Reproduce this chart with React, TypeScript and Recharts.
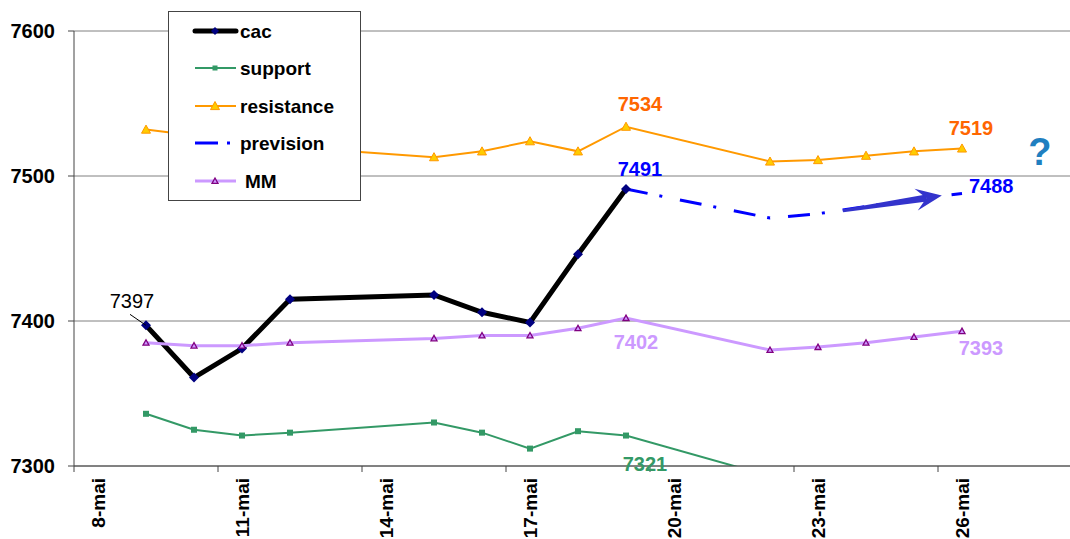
import React from "react";
import {
  LineChart,
  Line,
  XAxis,
  YAxis,
  CartesianGrid,
  Legend,
  LabelList,
  ReferenceLine,
  ReferenceDot,
} from "recharts";

// days of May (trading days only)
const days = [9, 10, 11, 12, 15, 16, 17, 18, 19, 22, 23, 24, 25, 26];
const cac = [7397, 7361, 7381, 7415, 7418, 7406, 7399, 7446, 7491, null, null, null, null, null];
const support = [7336, 7325, 7321, 7323, 7330, 7323, 7312, 7324, 7321, 7293, null, null, null, null];
const resistance = [7532, 7528, 7524, 7520, 7513, 7517, 7524, 7517, 7534, 7510, 7511, 7514, 7517, 7519];
const prevision = [null, null, null, null, null, null, null, null, 7491, 7471, 7474, 7479, 7484, 7488];
const mm = [7385, 7383, 7383, 7385, 7388, 7390, 7390, 7395, 7402, 7380, 7382, 7385, 7389, 7393];

const xTicks = [8, 11, 14, 17, 20, 23, 26];
const yTicks = [7300, 7400, 7500, 7600];

// hand-drawn arrow and question mark, in data coordinates
const arrowFrom = { day: 23.52, value: 7476 };
const arrowTo = { day: 25.58, value: 7486.5 };
const questionAt = { day: 27.62, value: 7517 };

const data = days.map((d, i) => ({
  day: d,
  cac: cac[i],
  support: support[i],
  resistance: resistance[i],
  prevision: prevision[i],
  mm: mm[i],
}));

const FONT = "Arial, 'Liberation Sans', sans-serif";
const HALF_DAY = 24; // px, half a day slot on the x axis

const C = {
  cac: "#000000",
  cacDot: "#000080",
  support: "#339966",
  resistance: "#FF9900",
  resDot: "#FFCC00",
  prevision: "#0000FF",
  mm: "#CC99FF",
  mmDot: "#800080",
};

function diamond(cx: number, cy: number, r: number, fill: string, key?: any) {
  return <polygon key={key} points={`${cx},${cy - r} ${cx + r},${cy} ${cx},${cy + r} ${cx - r},${cy}`} fill={fill} />;
}
function square(cx: number, cy: number, r: number, fill: string, key?: any) {
  return <rect key={key} x={cx - r} y={cy - r} width={r * 2} height={r * 2} fill={fill} />;
}
function triangle(cx: number, cy: number, r: number, fill: string, stroke: string, sw: number, key?: any) {
  return (
    <polygon
      key={key}
      points={`${cx},${cy - r} ${cx + r},${cy + r * 0.8} ${cx - r},${cy + r * 0.8}`}
      fill={fill}
      stroke={stroke}
      strokeWidth={sw}
    />
  );
}

const dotOk = (p: any) => p.cx != null && p.cy != null && p.value != null && !Number.isNaN(p.cy);

const CacDot = (p: any) => (dotOk(p) ? diamond(p.cx, p.cy, 5, C.cacDot, p.index) : <g key={p.index} />);
const SupDot = (p: any) => (dotOk(p) ? square(p.cx, p.cy, 3, C.support, p.index) : <g key={p.index} />);
const ResDot = (p: any) =>
  dotOk(p) ? triangle(p.cx, p.cy, 4.5, C.resDot, C.resistance, 1, p.index) : <g key={p.index} />;
const MmDot = (p: any) => (dotOk(p) ? triangle(p.cx, p.cy, 3, C.mm, C.mmDot, 1.3, p.index) : <g key={p.index} />);

// value labels on chosen points: index -> [dx, dy, anchor]
const pointLabel =
  (spots: Record<number, [number, number, string?]>, color: string, weight = "bold", leader = false) =>
  (p: any) => {
    const s = spots[p.index];
    if (!s || p.x == null || p.y == null) return null;
    return (
      <g key={`l${p.index}`}>
        {leader && <line x1={p.x - 16} y1={p.y - 11} x2={p.x} y2={p.y} stroke="#000" strokeWidth={1} />}
        <text
          x={p.x + s[0]}
          y={p.y + s[1]}
          textAnchor={(s[2] as any) || "middle"}
          fill={color}
          fontSize={20}
          fontWeight={weight}
          fontFamily={FONT}
        >
          {p.value}
        </text>
      </g>
    );
  };

const DayTick = (p: any) => {
  const { x, y, payload } = p;
  const ty = y + 12;
  return (
    <g>
      <line x1={x - HALF_DAY} y1={y} x2={x - HALF_DAY} y2={y + 6} stroke="#444" />
      <text
        x={x}
        y={ty}
        transform={`rotate(-90 ${x} ${ty})`}
        textAnchor="end"
        dy="0.36em"
        fontSize={19}
        fontWeight="bold"
        fill="#000"
        fontFamily={FONT}
      >
        {`${payload.value}-mai`}
      </text>
    </g>
  );
};

const ArrowShape = (p: any) => {
  const { x1, y1, x2, y2 } = p;
  if ([x1, y1, x2, y2].some((v) => v == null)) return <g />;
  const ang = Math.atan2(y2 - y1, x2 - x1);
  const ux = Math.cos(ang);
  const uy = Math.sin(ang);
  const nx = -uy;
  const ny = ux;
  const L = 26;
  const W = 11;
  const bx = x2 - ux * L;
  const by = y2 - uy * L;
  const mx = x2 - ux * L * 0.6;
  const my = y2 - uy * L * 0.6;
  const col = "#3333CC";
  return (
    <g>
      <polygon
        points={`${x1 + nx * 1.5},${y1 + ny * 1.5} ${mx + nx * 3.5},${my + ny * 3.5} ${mx - nx * 3.5},${my - ny * 3.5} ${x1 - nx * 1.5},${y1 - ny * 1.5}`}
        fill={col}
      />
      <polygon
        points={`${x2},${y2} ${bx + nx * W},${by + ny * W} ${mx},${my} ${bx - nx * W},${by - ny * W}`}
        fill={col}
      />
    </g>
  );
};

const QuestionShape = (p: any) => (
  <text
    x={p.cx}
    y={p.cy}
    dy="0.36em"
    textAnchor="middle"
    fontSize={38}
    fontWeight="bold"
    fill="#1F7FC0"
    fontFamily={FONT}
  >
    ?
  </text>
);

const legendRows = [
  { name: "cac", kind: "cac" },
  { name: "support", kind: "support" },
  { name: "resistance", kind: "resistance" },
  { name: "prevision", kind: "prevision" },
  { name: "MM", kind: "mm" },
];

const LegendBox = () => {
  const rowY = [20, 57, 95, 132, 170];
  return (
    <svg width={193} height={190} style={{ display: "block", fontFamily: FONT }}>
      <rect x={0.5} y={0.5} width={192} height={189} fill="#fff" stroke="#444" />
      {legendRows.map((r, i) => {
        const y = rowY[i];
        let sample: React.ReactNode = null;
        if (r.kind === "cac")
          sample = (
            <g>
              <line x1={27} x2={68} y1={y} y2={y} stroke={C.cac} strokeWidth={5} strokeLinecap="round" />
              {diamond(47, y, 4, C.cacDot)}
            </g>
          );
        if (r.kind === "support")
          sample = (
            <g>
              <line x1={27} x2={68} y1={y} y2={y} stroke={C.support} strokeWidth={2} />
              {square(47, y, 2.5, C.support)}
            </g>
          );
        if (r.kind === "resistance")
          sample = (
            <g>
              <line x1={27} x2={68} y1={y} y2={y} stroke={C.resistance} strokeWidth={2} />
              {triangle(47, y, 4.5, C.resDot, C.resistance, 1)}
            </g>
          );
        if (r.kind === "prevision")
          sample = (
            <g>
              <line x1={27} x2={50} y1={y} y2={y} stroke={C.prevision} strokeWidth={3} />
              <line x1={59} x2={62} y1={y} y2={y} stroke={C.prevision} strokeWidth={3} />
            </g>
          );
        if (r.kind === "mm")
          sample = (
            <g>
              <line x1={27} x2={68} y1={y} y2={y} stroke={C.mm} strokeWidth={3} />
              {triangle(47, y, 3, C.mm, C.mmDot, 1.3)}
            </g>
          );
        return (
          <g key={r.name}>
            {sample}
            <text x={r.kind === "mm" ? 77 : 72} y={y + 6.5} fontSize={19} fontWeight="bold" fill="#000">
              {r.name}
            </text>
          </g>
        );
      })}
    </svg>
  );
};

export default function App() {
  return (
    <div style={{ position: "absolute", left: 0, top: 0, width: 1070, height: 539, background: "#fff", fontFamily: FONT }}>
      <LineChart width={1070} height={539} data={data} margin={{ top: 31, right: 0, left: 0, bottom: 0 }}>
        <CartesianGrid vertical={false} stroke="#808080" />
        <XAxis
          dataKey="day"
          type="number"
          domain={[7.5, 28.25]}
          ticks={xTicks}
          interval={0}
          height={73}
          tickSize={0}
          tickMargin={0}
          tickLine={false}
          tick={<DayTick />}
          axisLine={{ stroke: "#444" }}
        />
        <YAxis
          domain={[7300, 7600]}
          ticks={yTicks}
          allowDataOverflow
          width={74}
          tickSize={6}
          tickMargin={13}
          tick={{ fontSize: 20, fontWeight: "bold", fill: "#000", fontFamily: FONT }}
          tickLine={{ stroke: "#444" }}
          axisLine={{ stroke: "#444" }}
        />
        <Legend
          layout="horizontal"
          verticalAlign="middle"
          align="center"
          content={() => <LegendBox />}
          wrapperStyle={{ left: 168, top: 11, width: 193, height: 190, margin: 0, padding: 0 }}
        />
        <Line dataKey="cac" stroke={C.cac} strokeWidth={5} dot={<CacDot />} activeDot={false} isAnimationActive={false}>
          <LabelList dataKey="cac" content={pointLabel({ 0: [-14, -17] }, "#000", "normal", true)} />
          <LabelList dataKey="cac" content={pointLabel({ 8: [14, -13] }, "#0000FF")} />
        </Line>
        <Line dataKey="support" stroke={C.support} strokeWidth={2} dot={<SupDot />} activeDot={false} isAnimationActive={false}>
          <LabelList dataKey="support" content={pointLabel({ 8: [19, 35] }, C.support)} />
        </Line>
        <Line dataKey="resistance" stroke={C.resistance} strokeWidth={2} dot={<ResDot />} activeDot={false} isAnimationActive={false}>
          <LabelList dataKey="resistance" content={pointLabel({ 8: [14, -16], 13: [9, -13] }, "#FF6600")} />
        </Line>
        <Line
          dataKey="prevision"
          stroke={C.prevision}
          strokeWidth={3}
          strokeDasharray="22 12 3 18"
          dot={false}
          activeDot={false}
          isAnimationActive={false}
        >
          <LabelList dataKey="prevision" content={pointLabel({ 13: [7, 0, "start"] }, "#0000FF")} />
        </Line>
        <Line dataKey="mm" stroke={C.mm} strokeWidth={3} dot={<MmDot />} activeDot={false} isAnimationActive={false}>
          <LabelList dataKey="mm" content={pointLabel({ 8: [10, 31], 13: [19, 24] }, C.mm)} />
        </Line>
        <ReferenceLine
          segment={[
            { x: arrowFrom.day, y: arrowFrom.value },
            { x: arrowTo.day, y: arrowTo.value },
          ]}
          shape={ArrowShape}
        />
        <ReferenceDot x={questionAt.day} y={questionAt.value} r={0} shape={QuestionShape} />
      </LineChart>
    </div>
  );
}
